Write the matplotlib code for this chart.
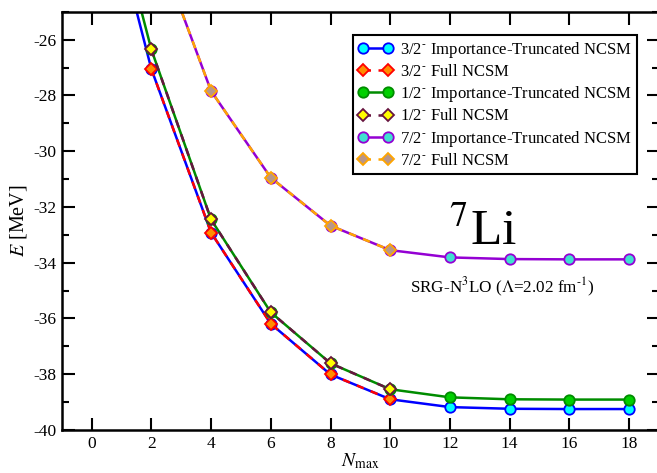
import numpy as np
import matplotlib
matplotlib.use("Agg")
import matplotlib.pyplot as plt
from matplotlib.ticker import MultipleLocator

plt.rcParams["font.family"] = ["Liberation Serif", "DejaVu Serif"]
plt.rcParams["mathtext.fontset"] = "stix"
plt.rcParams["axes.unicode_minus"] = False

# Nmax values and energies (MeV)
nmax_it = [0, 2, 4, 6, 8, 10, 12, 14, 16, 18]
nmax_full = [2, 4, 6, 8, 10]
nmax_it_72 = [2, 4, 6, 8, 10, 12, 14, 16, 18]

e32_it = [-18.7, -27.05, -32.92, -36.19, -38.01, -38.90, -39.18, -39.24, -39.25, -39.25]
e32_full = [-27.05, -32.92, -36.19, -38.01, -38.90]
e12_it = [-18.1, -26.35, -32.45, -35.78, -37.61, -38.54, -38.83, -38.90, -38.91, -38.91]
e12_full = [-26.35, -32.45, -35.78, -37.61, -38.54]
e72_it = [-22.06, -27.84, -30.95, -32.67, -33.55, -33.81, -33.87, -33.88, -33.88]
e72_full = [-22.06, -27.84, -30.95, -32.67, -33.55]

fig = plt.figure(figsize=(6.57, 4.73), dpi=100)
ax = fig.add_axes([0.094, 0.091, 0.909, 0.884])

lw = 1.8
ms = 7.5
sup = "$^{\\text{-}}$"

# importance-truncated: solid line + circles; full: dashed + diamonds
ax.plot(nmax_it, e32_it, "-", color="#0000ff", lw=lw, marker="o", ms=ms,
        mfc="#00ffff", mec="#0000ff", mew=1.3, label="3/2" + sup + " Importance-Truncated NCSM")
ax.plot(nmax_full, e32_full, "--", color="#ff0000", lw=lw, dashes=(3, 3), marker="D", ms=ms - 1,
        mfc="#ff8c00", mec="#ff0000", mew=1.3, label="3/2" + sup + " Full NCSM")
ax.plot(nmax_it, e12_it, "-", color="#008c00", lw=lw, marker="o", ms=ms,
        mfc="#00d000", mec="#008c00", mew=1.3, label="1/2" + sup + " Importance-Truncated NCSM")
ax.plot(nmax_full, e12_full, "--", color="#67153f", lw=lw, dashes=(3, 3), marker="D", ms=ms - 1,
        mfc="#ffff00", mec="#67153f", mew=1.3, label="1/2" + sup + " Full NCSM")
ax.plot(nmax_it_72, e72_it, "-", color="#9400d3", lw=lw, marker="o", ms=ms,
        mfc="#40e0d0", mec="#9400d3", mew=1.3, label="7/2" + sup + " Importance-Truncated NCSM")
ax.plot(nmax_full, e72_full, "--", color="#ffa500", lw=lw, dashes=(3, 3), marker="D", ms=ms - 1,
        mfc="#b8968a", mec="#ffa500", mew=1.3, label="7/2" + sup + " Full NCSM")

ax.set_xlim(-1, 19)
ax.set_ylim(-40, -25)
ax.xaxis.set_major_locator(MultipleLocator(2))
ax.yaxis.set_major_locator(MultipleLocator(2))
ax.yaxis.set_minor_locator(MultipleLocator(1))
ax.tick_params(which="both", direction="in", top=True, right=True, labelsize=12.5, width=1.5)
ax.tick_params(which="major", length=9, pad=4)
ax.tick_params(which="minor", length=5)
for s in ax.spines.values():
    s.set_linewidth(1.8)

ax.set_xlabel("$N_{\\rm max}$", fontsize=14, labelpad=0)
ax.set_ylabel("$E$ [MeV]", fontsize=14.5, labelpad=3)

leg = ax.legend(loc="upper right", bbox_to_anchor=(637 / 657, 1 - 35 / 473),
                bbox_transform=fig.transFigure, numpoints=2, fontsize=12,
                fancybox=False, framealpha=1, edgecolor="black", handlelength=2.1,
                handletextpad=0.45, labelspacing=0.25, borderpad=0.3, borderaxespad=0)
leg.get_frame().set_linewidth(1.5)

ax.text(0.705, 0.442, "$^{7}$Li", transform=ax.transAxes, fontsize=37,
        ha="center", va="baseline")
ax.text(0.737, 0.3275, "SRG-N$^{3}$LO ($\\Lambda$=2.02 fm" + "$^{\\text{-1}}$)",
        transform=ax.transAxes, fontsize=12.3, ha="center", va="baseline")

fig.savefig("out.png", dpi=100)
